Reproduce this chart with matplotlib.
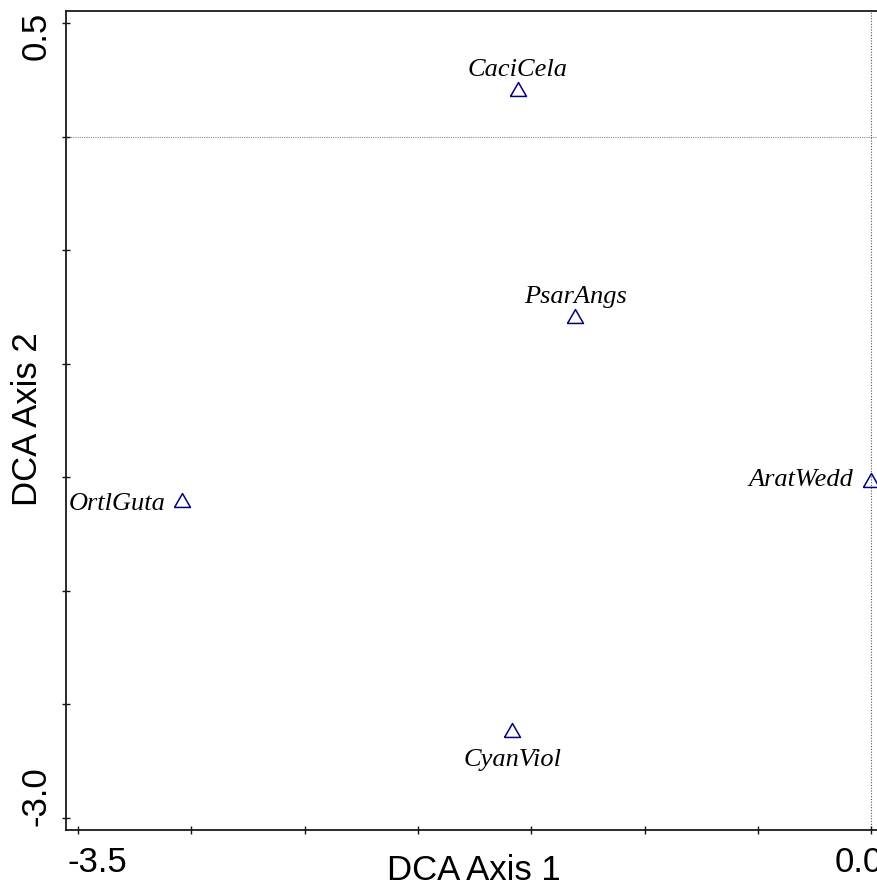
import numpy as np
import matplotlib
matplotlib.use('Agg')
import matplotlib.pyplot as plt
from matplotlib.transforms import ScaledTranslation

# DCA species scores
species = ['CaciCela', 'PsarAngs', 'AratWedd', 'OrtlGuta', 'CyanViol']
axis1 = [-1.560, -1.307, -0.004, -3.043, -1.584]
axis2 = [0.210, -0.788, -1.511, -1.599, -2.615]

x_ticks = [-3.5, -3.0, -2.5, -2.0, -1.5, -1.0, -0.5, 0.0]
y_ticks = [0.5, 0.0, -0.5, -1.0, -1.5, -2.0, -2.5, -3.0]

# label placement (offset in pixels from the marker, alignment)
lbl_off = {'CaciCela': (0, 13, 'center'),
           'PsarAngs': (0, 12.5, 'center'),
           'AratWedd': (-17, -6.5, 'right'),
           'OrtlGuta': (-16, -10.5, 'right'),
           'CyanViol': (0, -35.5, 'center')}

plt.rcParams['font.family'] = 'Liberation Sans'

fig = plt.figure(figsize=(8.77, 8.83), dpi=100, facecolor='w')
ax = fig.add_axes([0.0749, 0.0604, 0.9317, 0.9272])

px = 0.72  # points per pixel at dpi 100

ax.axhline(0.0, color='#888888', lw=0.8, ls=(0, (1, 1)), zorder=1)
ax.axvline(0.0, color='#555555', lw=0.8, ls=(0, (1, 1.5)), zorder=1)

tri = [(-1, -0.87), (1, -0.87), (0, 0.87), (-1, -0.87)]
ax.plot(axis1, axis2, ls='none', marker=tri, ms=11.5, mfc='none',
        mec='#000080', mew=1.1, zorder=3)

for name, xv, yv in zip(species, axis1, axis2):
    dx, dy, ha = lbl_off[name]
    ax.annotate(name, (xv, yv), xytext=(dx * px, dy * px), textcoords='offset points',
                ha=ha, va='baseline', fontsize=19, style='italic',
                family='Liberation Serif', color='black')

ax.set_xlim(-3.554, 0.05)
ax.set_ylim(-3.053, 0.554)

ax.set_xticks(x_ticks)
ax.set_yticks(y_ticks)
ax.set_xticklabels(['-3.5'] + [''] * 6 + ['0.0'])
ax.set_yticklabels(['0.5'] + [''] * 6 + ['-3.0'], rotation=90, va='center')

for s in ax.spines.values():
    s.set_linewidth(1.3)
    s.set_color('#1a1a1a')

ax.tick_params(axis='x', direction='inout', length=5.2, width=1.0, labelsize=25, pad=9,
               color='#111111')
ax.tick_params(axis='y', direction='inout', length=5.4, width=1.0, labelsize=25, pad=7,
               color='#111111')

# shift end labels inward, as in the original
xl = ax.get_xticklabels()
xl[0].set_transform(xl[0].get_transform() + ScaledTranslation(0.19, 0, fig.dpi_scale_trans))
xl[-1].set_transform(xl[-1].get_transform() + ScaledTranslation(-0.13, 0, fig.dpi_scale_trans))
yl = ax.get_yticklabels()
yl[0].set_transform(yl[0].get_transform() + ScaledTranslation(0, -0.13, fig.dpi_scale_trans))
yl[-1].set_transform(yl[-1].get_transform() + ScaledTranslation(0, 0.217, fig.dpi_scale_trans))

ax.set_xlabel('DCA Axis 1', fontsize=25)
ax.set_ylabel('DCA Axis 2', fontsize=25)
ax.xaxis.label.set_va('baseline')
ax.xaxis.set_label_coords(0.5, -0.0614)
ax.yaxis.label.set_va('baseline')
ax.yaxis.set_label_coords(-0.0351, 0.502)

fig.savefig('out.png', dpi=100)
